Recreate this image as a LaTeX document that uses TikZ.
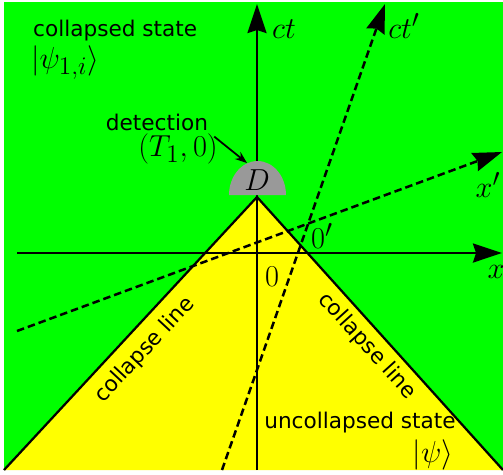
\documentclass[tikz,border=0pt]{standalone}
\usepackage{amsmath}
\usepackage[no-math]{fontspec}
\newfontfamily\labelfont{DejaVu Sans}
\usetikzlibrary{arrows.meta}
\definecolor{collapsed}{RGB}{0,255,0}
\definecolor{uncollapsed}{RGB}{255,255,0}
\definecolor{detector}{RGB}{153,153,153}

\begin{document}
\begin{tikzpicture}[x=0.02cm,y=-0.02cm,>={Stealth[length=0.58cm,width=0.38cm,inset=0.06cm]},
  lbl/.style={font=\fontsize{12.3}{14}\labelfont},
  mlbl/.style={font=\fontsize{19}{22}\selectfont},
  axis/.style={line width=0.05cm,->},
  daxis/.style={axis,dash pattern=on 0.15cm off 0.08cm}]
\useasboundingbox(0,0)rectangle(503,474);
\fill[collapsed](4,2)rectangle(503,470);
% light cone of the detection event
\coordinate(apex)at(257,197);
\coordinate(bl)at(4,470);
\coordinate(br)at(503,470);
\fill[uncollapsed](apex)--(bl)--(br)--cycle;
\draw[line width=0.045cm](bl)--(apex)--(br);
% frames
\coordinate(tb)at(257,470);\coordinate(tt)at(257,4);
\coordinate(xl)at(17,253);\coordinate(xr)at(502,253);
\coordinate(tpb)at(222,470);\coordinate(tpt)at(385,4);
\coordinate(xpl)at(17,331);\coordinate(xpr)at(502,152);
\draw[axis](tb)--(tt);
\draw[axis](xl)--(xr);
\draw[daxis](tpb)--(tpt);
\draw[daxis](xpl)--(xpr);
% detector
\fill[detector](229,195)arc[start angle=180,end angle=0,x radius=0.57cm,y radius=0.68cm]--cycle;
\coordinate(dtop)at(247,163);
\node[mlbl](Dlbl)at(257,180){$D$};
% labels
\node[lbl,anchor=west](cstate)at(27,31){collapsed state};
\node[mlbl,anchor=west](cpsi)at(25,63){$|\psi_{1,i}\rangle$};
\node[lbl](det)at(157,122){detection};
\node[mlbl](T1)at(178,149){$(T_1,0)$};
\draw[line width=0.035cm,-{Stealth[length=0.24cm,width=0.18cm]}](det.south east)--(dtop);
\node[mlbl](ctl)at(284,29){$ct$};
\node[mlbl](ctpl)at(404,26){$ct'$};
\node[mlbl](xlbl)at(496,272){$x$};
\node[mlbl](xplbl)at(488,185){$x'$};
\node[mlbl](Ol)at(272,277){$0$};
\node[mlbl](Opl)at(322,236){$0'$};
\node[lbl,rotate=47](cl1)at(145,350){collapse line};
\node[lbl,rotate=-48](cl2)at(367,346){collapse line};
\node[lbl](ustate)at(360,423){uncollapsed state};
\node[mlbl](upsi)at(433,455){$|\psi\rangle$};
\end{tikzpicture}
\end{document}
